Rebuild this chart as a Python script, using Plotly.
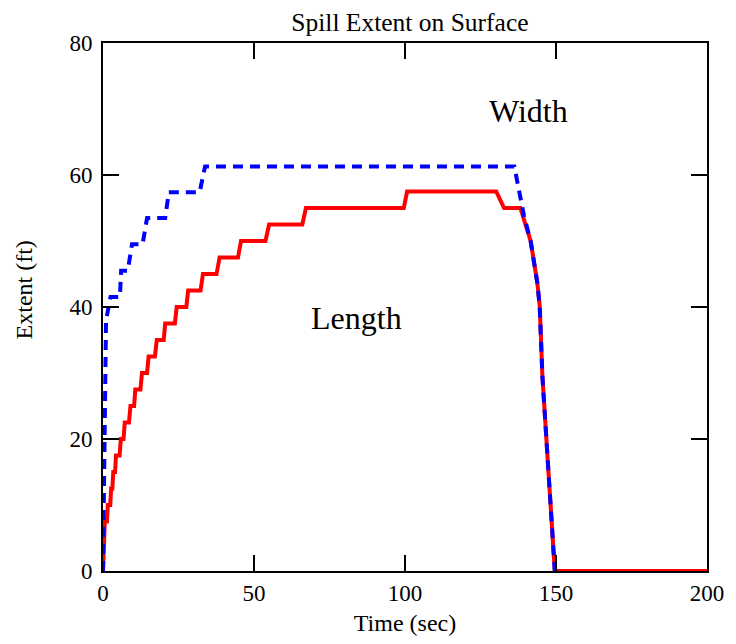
import plotly.graph_objects as go

# Length (red, solid)
length_t = [0, 0.6, 1.3, 1.6, 2.4, 2.7, 3.1, 3.4, 4.0, 4.3, 5.5, 5.9, 6.8, 7.2, 8.6, 9.1, 10.3,
            10.7, 12.4, 12.9, 14.6, 15.1, 17.2, 17.8, 20.1, 20.6, 23.8, 24.4, 27.6, 28.2, 32.3,
            33.1, 37.6, 38.6, 44.7, 45.7, 53.8, 55.0, 66.0, 67.2, 99.6, 100.7, 130.2, 132.8, 138.2,
            141.6, 143.8, 144.6, 145.5, 146.6, 147.6, 149.6, 200]
length_v = [0, 7.5, 7.5, 10, 10, 12.5, 12.5, 15, 15, 17.5, 17.5, 20, 20, 22.5, 22.5, 25, 25,
            27.5, 27.5, 30, 30, 32.5, 32.5, 35, 35, 37.5, 37.5, 40, 40, 42.5, 42.5,
            45, 45, 47.5, 47.5, 50, 50, 52.5, 52.5, 55, 55, 57.5, 57.5, 55, 55,
            50.0, 43.7, 40.2, 29.5, 21.0, 13.4, 0, 0]

# Width (blue, dashed)
width_t = [0, 0.6, 1.0, 2.5, 5.6, 6.0, 8.2, 9.6, 13.1, 14.6, 20.6, 21.8, 32.0, 33.8, 136.2,
           139.4, 141.6, 143.8, 144.6, 145.5, 146.6, 147.6, 149.6]
width_v = [0, 33, 38, 41.5, 41.5, 45.5, 45.5, 49.5, 49.5, 53.5, 53.5, 57.4, 57.4, 61.3, 61.3,
           53.8, 50.0, 43.7, 40.2, 29.5, 21.0, 13.4, 0]

x_ticks = [0, 50, 100, 150, 200]
y_ticks = [0, 20, 40, 60, 80]

FONT = "Liberation Serif"

fig = go.Figure()
fig.add_trace(go.Scatter(x=length_t, y=length_v, mode="lines",
                         line=dict(color="#ff0000", width=4), name="Length"))
fig.add_trace(go.Scatter(x=width_t, y=width_v, mode="lines",
                         line=dict(color="#0000ff", width=4, dash="10px,7px"), name="Width"))

axis_common = dict(showgrid=False, zeroline=False, showline=True, linecolor="black", linewidth=2,
                   mirror="ticks", ticks="inside", ticklen=16, tickwidth=2, tickcolor="black",
                   tickfont=dict(family=FONT, size=23, color="black"))

fig.update_xaxes(range=[0, 200], tickvals=x_ticks, ticktext=[str(v) for v in x_ticks],
                 title=dict(text="Time (sec)", font=dict(family=FONT, size=24, color="black"), standoff=10),
                 ticklabelstandoff=0, **axis_common)
fig.update_yaxes(range=[0, 80], tickvals=y_ticks, ticktext=[str(v) for v in y_ticks],
                 ticklabelstandoff=4, **axis_common)

# y-axis title placed as paper annotation
fig.add_annotation(xref="paper", yref="paper", x=-0.131, y=0.533, text="Extent (ft)",
                   textangle=-90, showarrow=False, xanchor="center", yanchor="middle",
                   font=dict(family=FONT, size=24, color="black"))

fig.add_annotation(x=141.0, y=69.7, text="Width", showarrow=False,
                   font=dict(family=FONT, size=32, color="black"))
fig.add_annotation(x=84.1, y=38.4, text="Length", showarrow=False,
                   font=dict(family=FONT, size=32, color="black"))

fig.update_layout(
    width=736, height=644,
    margin=dict(l=103, r=23, t=43, b=72),
    paper_bgcolor="white", plot_bgcolor="white",
    showlegend=False,
    title=dict(text="Spill Extent on Surface", x=0.557, xanchor="center", y=0.965, yanchor="middle",
               font=dict(family=FONT, size=25.5, color="black")),
)

fig.write_html("out.html")
